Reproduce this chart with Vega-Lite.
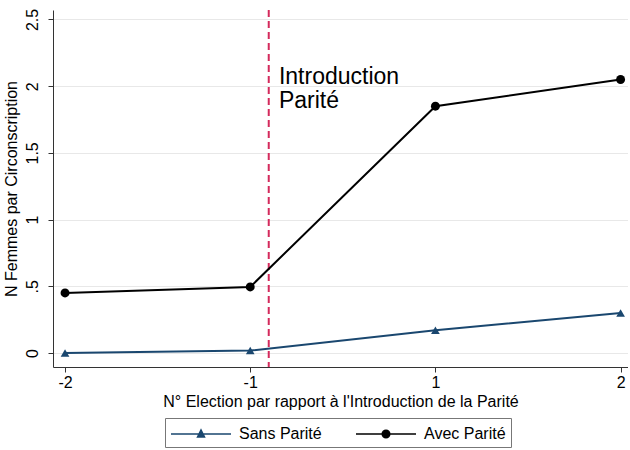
{
  "$schema": "https://vega.github.io/schema/vega-lite/v6.json",
  "width": 575,
  "height": 357,
  "autosize": {"type": "none"},
  "padding": {"left": 53, "top": 10, "right": 0, "bottom": 83},
  "background": "white",
  "config": {
    "font": "Liberation Sans",
    "view": {"stroke": null},
    "axis": {
      "domainColor": "#333333",
      "tickColor": "#333333",
      "tickSize": 5,
      "labelFontSize": 16,
      "titleFontSize": 16,
      "labelColor": "black",
      "titleColor": "black",
      "titleFontWeight": "normal",
      "labelFont": "Liberation Sans",
      "titleFont": "Liberation Sans"
    },
    "legend": {
      "labelFont": "Liberation Sans",
      "labelFontSize": 16,
      "labelColor": "black"
    }
  },
  "datasets": {
    "obs": [
      {"pos": 1, "election": -2, "series": "Sans Parité", "value": 0.0},
      {"pos": 2, "election": -1, "series": "Sans Parité", "value": 0.018},
      {"pos": 3, "election": 1, "series": "Sans Parité", "value": 0.17},
      {"pos": 4, "election": 2, "series": "Sans Parité", "value": 0.30},
      {"pos": 1, "election": -2, "series": "Avec Parité", "value": 0.45},
      {"pos": 2, "election": -1, "series": "Avec Parité", "value": 0.495},
      {"pos": 3, "election": 1, "series": "Avec Parité", "value": 1.85},
      {"pos": 4, "election": 2, "series": "Avec Parité", "value": 2.05}
    ]
  },
  "layer": [
    {
      "data": {"values": [{"intro": 2.1}]},
      "mark": {"type": "rule", "color": "#d42a5c", "strokeWidth": 2, "strokeDash": [7, 4]},
      "encoding": {
        "x": {
          "field": "intro", "type": "quantitative",
          "scale": {"domain": [0.935, 4.04], "nice": false, "zero": false},
          "axis": {
            "values": [1, 2, 3, 4],
            "labelExpr": "datum.value == 1 ? '-2' : datum.value == 2 ? '-1' : datum.value == 3 ? '1' : '2'",
            "grid": false,
            "title": "N° Election par rapport à l'Introduction de la Parité",
            "labelPadding": 2,
            "titlePadding": 3
          }
        }
      }
    },
    {
      "data": {"name": "obs"},
      "transform": [{"filter": "datum.series == 'Sans Parité'"}],
      "mark": {"type": "line", "strokeWidth": 2, "color": "#1a476f"},
      "encoding": {
        "x": {"field": "pos", "type": "quantitative", "scale": {"domain": [0.935, 4.04], "nice": false, "zero": false}},
        "y": {
          "field": "value", "type": "quantitative",
          "scale": {"domain": [-0.105, 2.571], "nice": false, "zero": false},
          "axis": {
            "values": [0, 0.5, 1, 1.5, 2, 2.5],
            "format": "~g",
            "labelExpr": "datum.value == 0.5 ? '.5' : datum.label",
            "labelAngle": -90,
            "labelAlign": "center",
            "labelBaseline": "bottom",
            "labelPadding": 8,
            "grid": true,
            "gridColor": "#e8e8e8",
            "gridWidth": 1,
            "title": "N Femmes par Circonscription",
            "titlePadding": 5
          }
        }
      }
    },
    {
      "data": {"name": "obs"},
      "transform": [{"filter": "datum.series == 'Avec Parité'"}],
      "mark": {"type": "line", "strokeWidth": 2, "color": "#000000"},
      "encoding": {
        "x": {"field": "pos", "type": "quantitative"},
        "y": {"field": "value", "type": "quantitative"}
      }
    },
    {
      "data": {"name": "obs"},
      "transform": [{"filter": "datum.series == 'Sans Parité'"}],
      "mark": {"type": "point", "shape": "triangle-up", "filled": true, "opacity": 1, "size": 75, "color": "#1a476f"},
      "encoding": {
        "x": {"field": "pos", "type": "quantitative"},
        "y": {"field": "value", "type": "quantitative"}
      }
    },
    {
      "data": {"name": "obs"},
      "transform": [{"filter": "datum.series == 'Avec Parité'"}],
      "mark": {"type": "point", "shape": "circle", "filled": true, "opacity": 1, "size": 80, "color": "#000000"},
      "encoding": {
        "x": {"field": "pos", "type": "quantitative"},
        "y": {"field": "value", "type": "quantitative"}
      }
    },
    {
      "data": {"values": [{"tx": 2.155, "ty": 2.15, "label": ["Introduction", "Parité"]}]},
      "mark": {"type": "text", "align": "left", "baseline": "top", "fontSize": 23, "font": "Liberation Sans", "color": "black", "lineHeight": 24},
      "encoding": {
        "x": {"field": "tx", "type": "quantitative"},
        "y": {"field": "ty", "type": "quantitative"},
        "text": {"field": "label"}
      }
    },
    {
      "data": {"name": "obs"},
      "mark": {"type": "point", "filled": true, "opacity": 0},
      "encoding": {
        "x": {"field": "pos", "type": "quantitative"},
        "y": {"field": "value", "type": "quantitative"},
        "color": {
          "field": "series", "type": "nominal",
          "scale": {"domain": ["Sans Parité", "Avec Parité"], "range": ["#1a476f", "#000000"]},
          "legend": {
            "title": null,
            "orient": "none",
            "legendX": 112,
            "legendY": 408,
            "direction": "horizontal",
            "strokeColor": "#777777",
            "padding": 5,
            "symbolSize": 400,
            "symbolStrokeWidth": 1.5,
            "labelOffset": 47,
            "columnPadding": 31,
            "encode": {
              "symbols": {
                "update": {
                  "opacity": {"value": 1},
                  "fillOpacity": {"value": 1},
                  "strokeOpacity": {"value": 1},
                  "stroke": {"scale": "color", "field": "value"},
                  "strokeWidth": {"value": 1.5}
                }
              }
            }
          }
        },
        "shape": {
          "field": "series", "type": "nominal",
          "scale": {"domain": ["Sans Parité", "Avec Parité"], "range": ["M-1,0H5M1.65,0.3L2,-0.4L2.35,0.3Z", "M-1,0H5M2.38,0A0.38,0.38,0,1,1,1.62,0A0.38,0.38,0,1,1,2.38,0Z"]}
        }
      }
    }
  ]
}
